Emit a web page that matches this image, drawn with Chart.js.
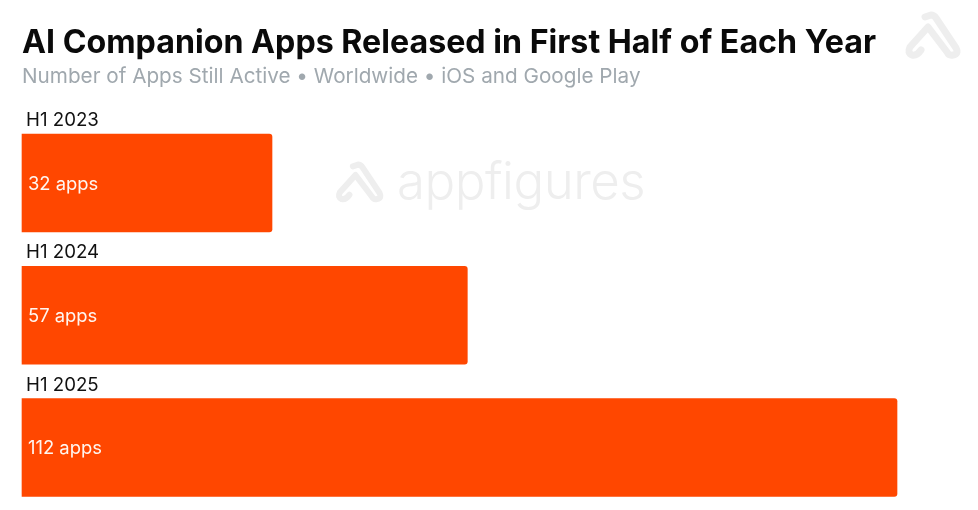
<!DOCTYPE html>
<html>
<head>
<meta charset="utf-8">
<title>AI Companion Apps</title>
<script src="https://cdn.jsdelivr.net/npm/chart.js@4"></script>
<style>
  html, body { margin: 0; padding: 0; background: #fff; overflow: hidden; }
  #wrap { position: relative; width: 978px; height: 510px; }
  #chart { position: absolute; left: 0; top: 0; }
  .mark { position: absolute; }
  .word { position: absolute; left: 397px; top: 150px; font: 300 51px Inter, sans-serif; color: #eeeeee; letter-spacing: -0.5px; }
</style>
</head>
<body>
<div id="wrap">
  <svg class="mark" style="left:327px;top:156px" width="69" height="56" viewBox="0 0 80 65"><path d="M30 12 L36 10 Q39 10 41 13 L61 43 Q64 49 58 50 Q54 51 52 47 L33 22 L15 42 Q12 48 17 50 Q22 51 26 45" fill="none" stroke="#eeeeee" stroke-width="7" stroke-linejoin="round" stroke-linecap="round"/></svg>
  <svg class="mark" style="left:895px;top:5px" width="80" height="65" viewBox="0 0 80 65"><path d="M30 12 L36 10 Q39 10 41 13 L61 43 Q64 49 58 50 Q54 51 52 47 L33 22 L15 42 Q12 48 17 50 Q22 51 26 45" fill="none" stroke="#eeeeee" stroke-width="7" stroke-linejoin="round" stroke-linecap="round"/></svg>
  <div class="word">appfigures</div>
  <canvas id="chart" width="978" height="510"></canvas>
</div>
<script>
const categories = ['H1 2023', 'H1 2024', 'H1 2025'];
const appCounts = [32, 57, 112];
const barLabels = ['32 apps', '57 apps', '112 apps'];

const titleText = 'AI Companion Apps Released in First Half of Each Year';
const subtitleText = 'Number of Apps Still Active • Worldwide • iOS and Google Play';

// bar captions above and value text inside each bar
const barText = {
  id: 'barText',
  afterDatasetsDraw(chart) {
    const { ctx } = chart;
    const bars = chart.getDatasetMeta(0).data;
    ctx.save();
    ctx.textBaseline = 'middle';
    ctx.textAlign = 'left';
    bars.forEach((bar, i) => {
      ctx.font = '400 18.7px Inter, sans-serif';
      ctx.fillStyle = '#111111';
      ctx.fillText(categories[i], 26, bar.y - 62.5);
      ctx.font = '400 18.4px Inter, sans-serif';
      ctx.fillStyle = '#fff6f0';
      ctx.fillText(barLabels[i], 28, bar.y + 1);
    });
    ctx.restore();
  }
};

new Chart(document.getElementById('chart'), {
  type: 'bar',
  data: {
    labels: categories,
    datasets: [{
      data: appCounts,
      backgroundColor: '#ff4700',
      borderRadius: 3,
      borderSkipped: 'left',
      barThickness: 98,
      clip: false
    }]
  },
  plugins: [barText],
  options: {
    indexAxis: 'y',
    responsive: false,
    animation: false,
    layout: { padding: { left: 22, right: 81, top: 24, bottom: 62.5 } },
    scales: {
      x: { display: false, min: 0, max: 112 },
      y: { display: false, offset: false }
    },
    plugins: {
      legend: { display: false },
      tooltip: { enabled: false },
      title: {
        display: true,
        text: titleText,
        align: 'start',
        color: '#0a0a0a',
        font: { family: 'Inter, sans-serif', size: 32.2, weight: '700' },
        padding: { top: 0, bottom: 2 }
      },
      subtitle: {
        display: true,
        text: subtitleText,
        align: 'start',
        color: '#a0a8ae',
        font: { family: 'Inter, sans-serif', size: 20.7, weight: '400' },
        padding: { top: 0, bottom: 93.5 }
      }
    }
  }
});
</script>
</body>
</html>
